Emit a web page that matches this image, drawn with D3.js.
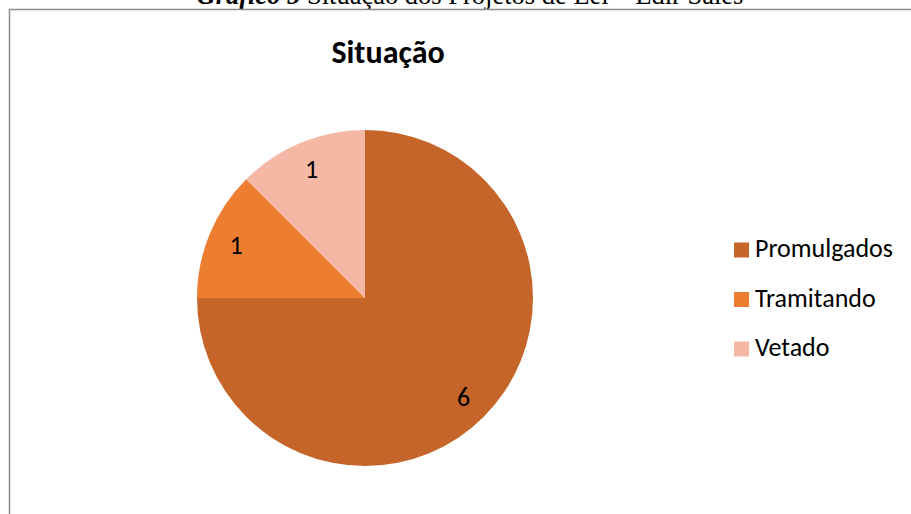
<!DOCTYPE html>
<html>
<head>
<meta charset="utf-8">
<script src="https://cdn.jsdelivr.net/npm/d3@7"></script>
<style>
  body { margin: 0; background: #fff; }
  svg { display: block; }
</style>
</head>
<body>
<div id="graf"></div>
<script>
// Datos
categorias = ['Promulgados', 'Tramitando', 'Vetado']
valores = [6, 1, 1]
colores = ['#C5652A', '#ED7D31', '#F4B8A5']

ancho_total = 911
alto_total = 514

svg = d3.select('#graf').append('svg')
  .attr('width', ancho_total)
  .attr('height', alto_total)

// Leyenda del documento (cortada arriba)
cap = svg.append('text')
  .attr('x', 470)
  .attr('y', 4)
  .attr('text-anchor', 'middle')
  .attr('font-family', '"Liberation Serif", "Times New Roman", serif')
  .attr('font-size', '26.5px')
  .attr('fill', '#000')
cap.append('tspan')
  .attr('font-weight', 'bold')
  .attr('font-style', 'italic')
  .text('Gráfico 5')
cap.append('tspan').text(' Situação dos Projetos de Lei – Edir Sales')

// Marco
svg.append('path')
  .attr('d', 'M9.5,514 L9.5,9.5 L911,9.5')
  .attr('fill', 'none')
  .attr('stroke', '#8c8c8c')
  .attr('stroke-width', 1.5)

// Titulo
svg.append('text')
  .attr('x', 388)
  .attr('y', 63)
  .attr('text-anchor', 'middle')
  .attr('font-family', 'Carlito, Calibri, "Open Sans", sans-serif')
  .attr('font-weight', 'bold')
  .attr('font-size', '32px')
  .attr('fill', '#000')
  .text('Situação')

// Pastel
cx = 365
cy = 298
radio = 168

color = d3.scaleOrdinal().domain(categorias).range(colores)

datos = categorias.map((c, i) => ({ cat: c, val: valores[i] }))

pie = d3.pie().value(d => d.val).sort(null)
arco = d3.arc().innerRadius(0).outerRadius(radio)
arcoEtiq = d3.arc().innerRadius(radio * 0.83).outerRadius(radio * 0.83)

g = svg.append('g').attr('transform', `translate(${cx}, ${cy})`)

g.selectAll('path')
  .data(pie(datos))
  .enter()
  .append('path')
    .attr('d', arco)
    .attr('fill', d => color(d.data.cat))

g.selectAll('text')
  .data(pie(datos))
  .enter()
  .append('text')
    .attr('transform', d => `translate(${arcoEtiq.centroid(d)})`)
    .attr('text-anchor', 'middle')
    .attr('dy', '0.35em')
    .attr('font-family', 'Carlito, Calibri, "Open Sans", sans-serif')
    .attr('font-size', '26px')
    .attr('fill', '#000')
    .text(d => d.data.val)

// Leyenda
ley = svg.append('g').attr('transform', 'translate(734, 250)')
items = ley.selectAll('g')
  .data(categorias)
  .enter()
  .append('g')
    .attr('transform', (d, i) => `translate(0, ${i * 49.5})`)
items.append('rect')
  .attr('x', 0)
  .attr('y', -7.5)
  .attr('width', 15)
  .attr('height', 15)
  .attr('fill', d => color(d))
items.append('text')
  .attr('x', 21)
  .attr('y', -2)
  .attr('dy', '0.35em')
  .attr('font-family', 'Carlito, Calibri, "Open Sans", sans-serif')
  .attr('font-size', '26px')
  .attr('fill', '#000')
  .text(d => d)
</script>
</body>
</html>
